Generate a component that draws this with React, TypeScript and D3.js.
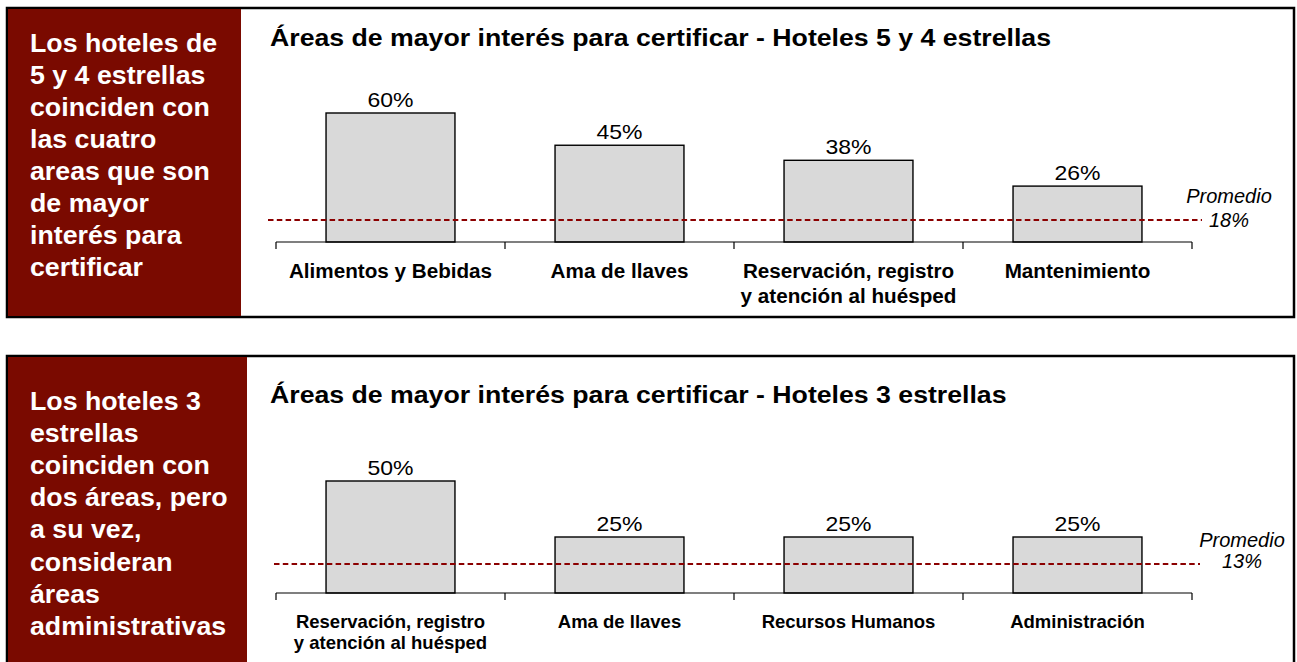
import * as d3 from 'd3';

// top chart: hoteles 5 y 4 estrellas
const topCategories = ['Alimentos y Bebidas', 'Ama de llaves', 'Reservación, registro|y atención al huésped', 'Mantenimiento'];
const topValues = [60, 45, 38, 26];
const topAverage = 18;
const topAverageDrawnAt = 10.2; // the source draws its 18% line lower than the bar scale says

// bottom chart: hoteles 3 estrellas
const bottomCategories = ['Reservación, registro|y atención al huésped', 'Ama de llaves', 'Recursos Humanos', 'Administración'];
const bottomValues = [50, 25, 25, 25];
const bottomAverage = 13;
const bottomAverageDrawnAt = 13;

const topNote = ['Los hoteles de', '5 y 4 estrellas', 'coinciden con', 'las cuatro', 'areas que son', 'de mayor', 'interés para', 'certificar'];
const bottomNote = ['Los hoteles 3', 'estrellas', 'coinciden con', 'dos áreas, pero', 'a su vez,', 'consideran', 'áreas', 'administrativas'];

const FONT = '"Liberation Sans", Arial, Helvetica, sans-serif';
const RED = '#7a0a00';

const T = ({ x, y, size, sx = 1, bold = false, italic = false, anchor = 'start', fill = '#000', children }: any) => (
  <text
    transform={`translate(${x},${y}) scale(${sx},1)`}
    fontSize={size}
    fontWeight={bold ? 700 : 400}
    fontStyle={italic ? 'italic' : 'normal'}
    textAnchor={anchor}
    fill={fill}
  >
    {children}
  </text>
);

const Panel = (p: any) => {
  const x = d3.scaleBand<string>()
    .domain(p.categories)
    .range([276, 1192])
    .paddingInner(0.437)
    .paddingOuter(0.2185);
  const step = x.step();
  const y = d3.scaleLinear().domain([0, p.maxValue]).range([p.baseline, p.maxY]);
  const ticks = d3.range(p.categories.length + 1).map(i => 276 + i * step);
  const avgY = y(p.averageAt);

  return (
    <g>
      <rect x={7} y={p.top} width={1287} height={p.height} fill="#fff" stroke="#000" strokeWidth={2.5} />
      <rect x={8} y={p.top + 1} width={p.redWidth} height={p.height - 2} fill={RED} />
      {p.note.map((line: string, i: number) => (
        <T key={i} x={30} y={p.noteY + i * 32.1} size={25} sx={1.07} bold fill="#fff">{line}</T>
      ))}
      <T x={270} y={p.titleY} size={23} sx={1.16} bold>{p.title}</T>

      {p.values.map((v: number, i: number) => {
        const c = p.categories[i];
        return (
          <g key={c}>
            <rect x={x(c)} y={y(v)} width={x.bandwidth()} height={p.baseline - y(v)} fill="#d9d9d9" stroke="#000" strokeWidth={1.4} />
            <T x={x(c)! + x.bandwidth() / 2} y={y(v) - 6} size={20} sx={1.15} anchor="middle">{v}%</T>
          </g>
        );
      })}

      <line x1={p.dashFrom} x2={p.dashTo} y1={avgY} y2={avgY} stroke="#8b0000" strokeWidth={2} strokeDasharray="5.5,3.3" />
      <T x={p.avgX} y={p.avgLabelY} size={20} italic anchor="middle">Promedio</T>
      <T x={p.avgX} y={p.avgLabelY + p.avgGap} size={20} italic anchor="middle">{p.average}%</T>

      <line x1={276} x2={1192} y1={p.baseline} y2={p.baseline} stroke="#000" strokeWidth={1.2} />
      {ticks.map((t: number) => (
        <line key={t} x1={t} x2={t} y1={p.baseline} y2={p.baseline + 7} stroke="#000" strokeWidth={1.2} />
      ))}
      {p.categories.map((c: string) => (
        <g key={c}>
          {c.split('|').map((line, j) => (
            <T key={j} x={x(c)! + x.bandwidth() / 2} y={p.labelY + j * p.labelGap} size={p.labelSize} sx={p.labelSx} bold anchor="middle">{line}</T>
          ))}
        </g>
      ))}
    </g>
  );
};

export default function App() {
  return (
    <svg width={1297} height={662} style={{ position: 'absolute', left: 0, top: 0, fontFamily: FONT }}>
      <rect width={1297} height={662} fill="#fff" />
      <Panel
        top={8} height={309} redWidth={233}
        note={topNote} noteY={51.7}
        title="Áreas de mayor interés para certificar - Hoteles 5 y 4 estrellas" titleY={46}
        categories={topCategories} values={topValues} maxValue={60} baseline={242} maxY={113}
        average={topAverage} averageAt={topAverageDrawnAt}
        dashFrom={268} dashTo={1202} avgX={1229} avgLabelY={203} avgGap={24}
        labelY={278} labelGap={25} labelSize={19.5} labelSx={1.06}
      />
      <Panel
        top={356} height={330} redWidth={239}
        note={bottomNote} noteY={410}
        title="Áreas de mayor interés para certificar - Hoteles 3 estrellas" titleY={403}
        categories={bottomCategories} values={bottomValues} maxValue={50} baseline={593} maxY={481}
        average={bottomAverage} averageAt={bottomAverageDrawnAt}
        dashFrom={274} dashTo={1200} avgX={1242} avgLabelY={547} avgGap={21}
        labelY={628} labelGap={21} labelSize={18.5} labelSx={1}
      />
    </svg>
  );
}
